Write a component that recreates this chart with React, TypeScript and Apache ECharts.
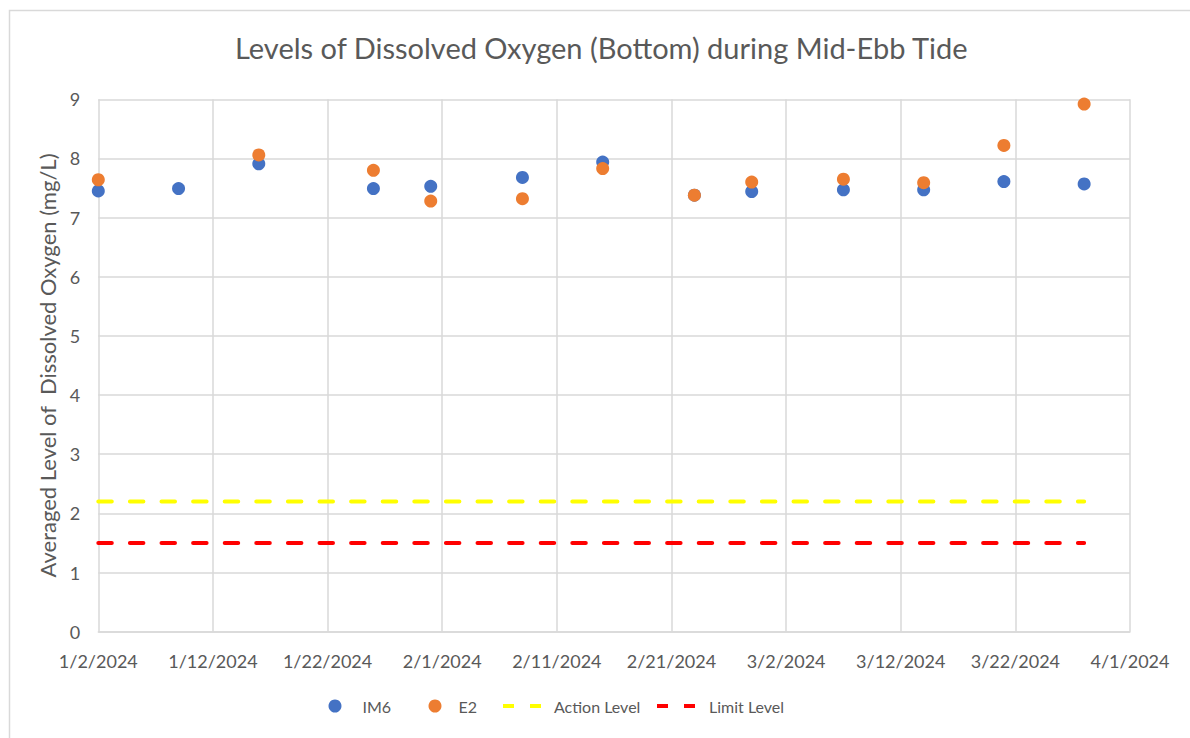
import React, { useEffect, useRef } from "react";
import * as echarts from "echarts";

const titleText = "Levels of Dissolved Oxygen (Bottom) during Mid-Ebb Tide";
const yAxisTitle = "Averaged Level of  Dissolved Oxygen (mg/L)";

const startDate = "2024-01-02";
const endDate = "2024-04-01";
const tickStepDays = 10;

const im6Dates = [
  "2024-01-02", "2024-01-09", "2024-01-16", "2024-01-26", "2024-01-31", "2024-02-08",
  "2024-02-15", "2024-02-23", "2024-02-28", "2024-03-07", "2024-03-14", "2024-03-21", "2024-03-28",
];
const im6Values = [7.45, 7.49, 7.91, 7.49, 7.53, 7.68, 7.94, 7.38, 7.44, 7.47, 7.47, 7.61, 7.57];

const e2Dates = [
  "2024-01-02", "2024-01-16", "2024-01-26", "2024-01-31", "2024-02-08", "2024-02-15",
  "2024-02-23", "2024-02-28", "2024-03-07", "2024-03-14", "2024-03-21", "2024-03-28",
];
const e2Values = [7.64, 8.06, 7.8, 7.28, 7.32, 7.83, 7.38, 7.6, 7.65, 7.59, 8.22, 8.92];

const levelDates = ["2024-01-02", "2024-03-28"];
const actionLevel = [2.2, 2.2];
const limitLevel = [1.5, 1.5];

const yMin = 0;
const yMax = 9;
const yStep = 1;

const DAY = 86400000;
const baseMs = Date.parse(startDate + "T00:00:00Z");
const toDay = (s: string) => Math.round((Date.parse(s + "T00:00:00Z") - baseMs) / DAY);
const fmtDay = (d: number) => {
  const t = new Date(baseMs + d * DAY);
  return `${t.getUTCMonth() + 1}/${t.getUTCDate()}/${t.getUTCFullYear()}`;
};
const zip = (dates: string[], vals: number[]) => dates.map((d, i) => [toDay(d), vals[i]]);

const FONT = "Lato";
const TXT = "#595959";
const GRID = "#D9D9D9";

export default function App() {
  const ref = useRef<HTMLDivElement>(null);
  useEffect(() => {
    if (!ref.current) return;
    const chart = echarts.init(ref.current, null, { renderer: "svg" });
    const legendBase = {
      top: 698,
      padding: 0,
      itemWidth: 40,
      itemHeight: 13,
      textStyle: { color: TXT, fontSize: 16, fontFamily: FONT },
    };
    chart.setOption({
      animation: false,
      backgroundColor: "#ffffff",
      title: {
        text: titleText,
        left: 230,
        top: 28,
        textStyle: { color: TXT, fontSize: 29, fontWeight: "normal", fontFamily: FONT },
      },
      grid: { left: 98.3, right: 60, top: 99.3, bottom: 106.3, containLabel: false },
      legend: [
        {
          ...legendBase,
          left: 328.5,
          itemWidth: 13,
          data: ["IM6"],
          textStyle: { ...legendBase.textStyle, padding: [0, 0, 0, 16] },
        },
        {
          ...legendBase,
          left: 428.5,
          itemWidth: 13,
          data: ["E2"],
          textStyle: { ...legendBase.textStyle, padding: [0, 0, 0, 12] },
        },
        {
          ...legendBase,
          left: 501,
          data: ["Action Level"],
          itemStyle: { opacity: 0 },
          lineStyle: { width: 4, type: [11, 16], cap: "butt" },
          textStyle: { ...legendBase.textStyle, padding: [0, 0, 0, 6] },
        },
        {
          ...legendBase,
          left: 655,
          data: ["Limit Level"],
          itemStyle: { opacity: 0 },
          lineStyle: { width: 4, type: [11, 16], cap: "butt" },
          textStyle: { ...legendBase.textStyle, padding: [0, 0, 0, 7] },
        },
      ],
      xAxis: {
        type: "value",
        min: 0,
        max: toDay(endDate),
        interval: tickStepDays,
        axisLine: { show: true, lineStyle: { color: GRID, width: 1.5 } },
        axisTick: { show: false },
        splitLine: { show: true, lineStyle: { color: GRID, width: 1.5 } },
        axisLabel: {
          formatter: (v: number) => fmtDay(v),
          color: TXT,
          fontSize: 18,
          fontFamily: FONT,
          margin: 20,
          showMinLabel: true,
          showMaxLabel: true,
        },
      },
      yAxis: {
        type: "value",
        min: yMin,
        max: yMax,
        interval: yStep,
        name: yAxisTitle,
        nameLocation: "middle",
        nameGap: 33,
        nameTextStyle: { color: TXT, fontSize: 22, fontFamily: FONT },
        axisLine: { show: false },
        axisTick: { show: false },
        splitLine: { show: true, lineStyle: { color: GRID, width: 1.5 } },
        axisLabel: { color: TXT, fontSize: 18, fontFamily: FONT, margin: 18 },
      },
      graphic: [
        {
          type: "rect",
          left: 7,
          top: 8,
          shape: { x: 0, y: 0, width: 1200, height: 800 },
          style: { fill: "none", stroke: GRID, lineWidth: 1.5 },
          silent: true,
          z: -10,
        },
      ],
      series: [
        {
          name: "IM6",
          type: "scatter",
          symbol: "circle",
          symbolSize: 13,
          itemStyle: { color: "#4472C4", opacity: 1 },
          data: zip(im6Dates, im6Values),
        },
        {
          name: "E2",
          type: "scatter",
          symbol: "circle",
          symbolSize: 13,
          itemStyle: { color: "#ED7D31", opacity: 1 },
          data: zip(e2Dates, e2Values),
        },
        {
          name: "Action Level",
          type: "line",
          symbol: "none",
          itemStyle: { color: "#FFFF00" },
          lineStyle: { color: "#FFFF00", width: 4, type: [13.5, 18.1], cap: "round" },
          data: zip(levelDates, actionLevel),
        },
        {
          name: "Limit Level",
          type: "line",
          symbol: "none",
          itemStyle: { color: "#FF0000" },
          lineStyle: { color: "#FF0000", width: 4, type: [13.5, 18.1], cap: "round" },
          data: zip(levelDates, limitLevel),
        },
      ],
    });
    return () => chart.dispose();
  }, []);
  return (
    <div
      ref={ref}
      style={{ position: "absolute", left: 0, top: 0, width: 1190, height: 738 }}
    />
  );
}
